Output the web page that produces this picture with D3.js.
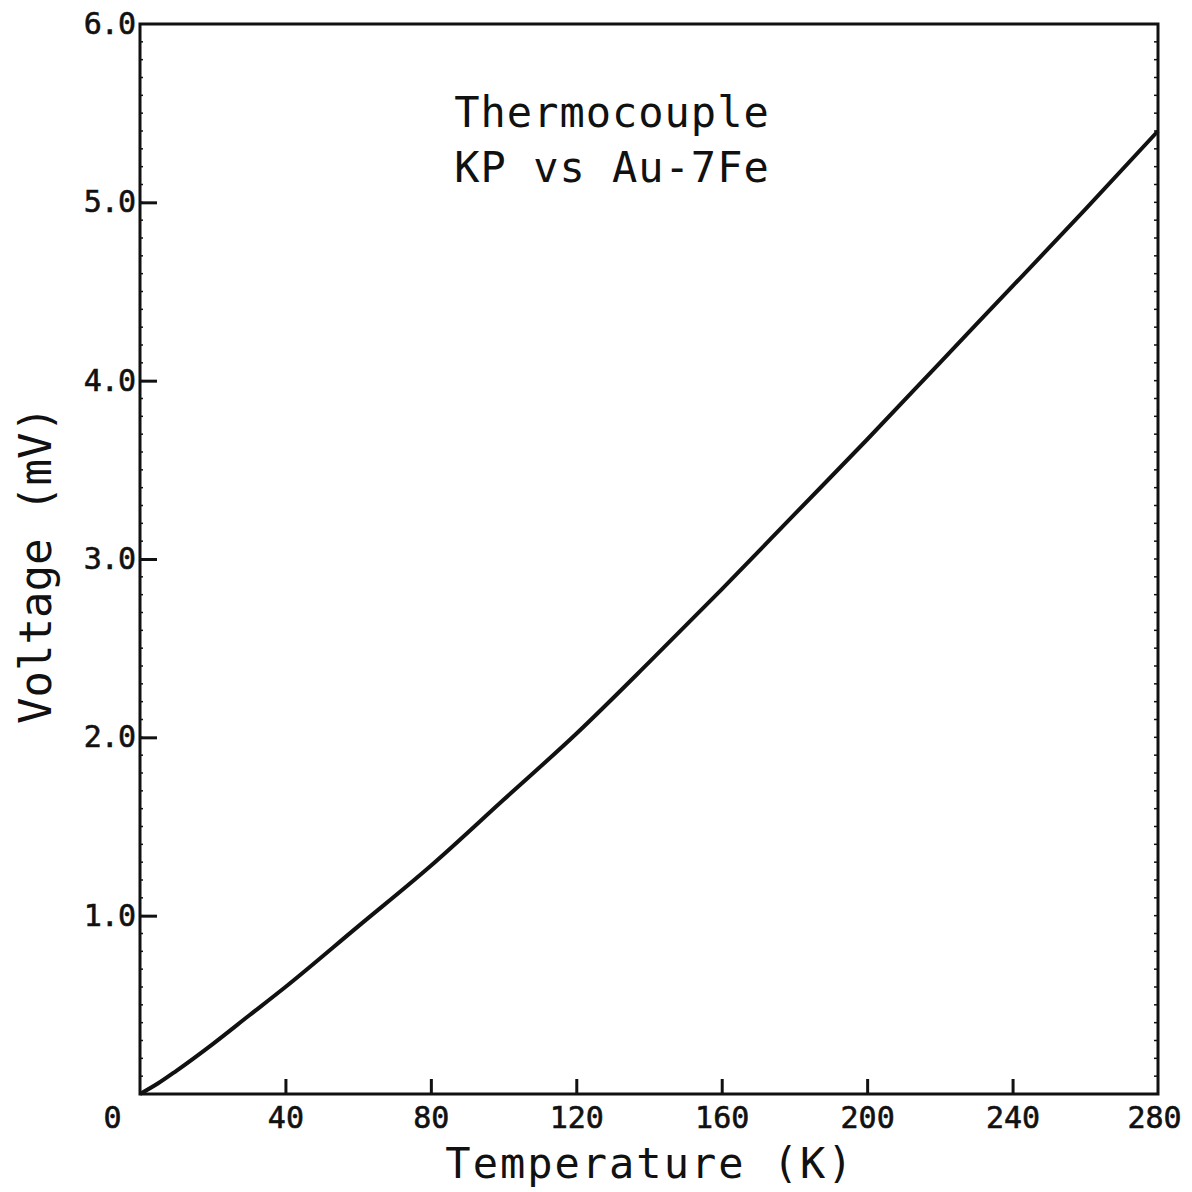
<!DOCTYPE html>
<html>
<head>
<meta charset="utf-8">
<script src="https://cdn.jsdelivr.net/npm/d3@7"></script>
<style>
  body { margin: 0; background: #fff; }
  svg text { font-family: "DejaVu Sans Mono", "Liberation Mono", monospace; fill: #111; }
</style>
</head>
<body>
<svg width="1192" height="1192"></svg>
<script>
// Data
const temperature = [0, 5, 10, 20, 30, 40, 60, 80, 100, 120, 140, 160, 180, 200, 220, 240, 260, 280];
const voltage = [0, 0.06, 0.13, 0.28, 0.44, 0.60, 0.94, 1.28, 1.65, 2.02, 2.42, 2.83, 3.25, 3.67, 4.10, 4.53, 4.96, 5.40];
const xTicks = [0, 40, 80, 120, 160, 200, 240, 280];
const yTicks = [1, 2, 3, 4, 5, 6];
const titleLines = ["Thermocouple", "KP vs Au-7Fe"];

const margin = { left: 140, right: 1158, top: 24, bottom: 1094 };
const svg = d3.select("svg");

let x = d3.scaleLinear().domain([0, 280]).range([margin.left, margin.right]);
let y = d3.scaleLinear().domain([0, 6]).range([margin.bottom, margin.top]);

// frame
svg.append("rect")
  .attr("x", margin.left).attr("y", margin.top)
  .attr("width", margin.right - margin.left)
  .attr("height", margin.bottom - margin.top)
  .attr("fill", "none").attr("stroke", "#111").attr("stroke-width", 3);

// minor ticks (tiny marks along the frame)
const minorY = d3.range(1, 60).map(d => d / 10);
svg.append("g").selectAll("line").data(minorY).join("line")
  .attr("x1", margin.left).attr("x2", margin.left + 3)
  .attr("y1", d => y(d)).attr("y2", d => y(d))
  .attr("stroke", "#111").attr("stroke-width", 1.5);
svg.append("g").selectAll("line").data(minorY).join("line")
  .attr("x1", margin.right).attr("x2", margin.right - 4)
  .attr("y1", d => y(d)).attr("y2", d => y(d))
  .attr("stroke", "#111").attr("stroke-width", 1.5);

// x axis
let xAxis = svg.append("g")
  .attr("transform", `translate(0,${margin.bottom})`)
  .call(d3.axisBottom(x).tickValues(xTicks).tickSizeInner(-15).tickSizeOuter(0).tickPadding(13)
    .tickFormat(d3.format("d")));
xAxis.select(".domain").remove();
xAxis.selectAll(".tick line").attr("stroke", "#111").attr("stroke-width", 3);
xAxis.selectAll(".tick text")
  .attr("font-size", 30)
  .attr("stroke", "#111").attr("stroke-width", 0.6)
  .attr("dx", d => d === 0 ? -28 : d === 280 ? -4 : 0);
xAxis.selectAll(".tick").filter(d => d === 0 || d === 280).select("line").remove();

// y axis
let yAxis = svg.append("g")
  .attr("transform", `translate(${margin.left},0)`)
  .call(d3.axisLeft(y).tickValues(yTicks).tickSizeInner(-17).tickSizeOuter(0).tickPadding(5)
    .tickFormat(d3.format(".1f")));
yAxis.select(".domain").remove();
yAxis.selectAll(".tick line").attr("stroke", "#111").attr("stroke-width", 3);
yAxis.selectAll(".tick text").attr("font-size", 30).attr("letter-spacing", -1)
  .attr("stroke", "#111").attr("stroke-width", 0.6);
yAxis.selectAll(".tick").filter(d => d === 6).select("line").remove();

// curve
let line = d3.line()
  .x((d, i) => x(temperature[i]))
  .y(d => y(d))
  .curve(d3.curveMonotoneX);
svg.append("path")
  .datum(voltage)
  .attr("d", line)
  .attr("fill", "none")
  .attr("stroke", "#111")
  .attr("stroke-width", 4);

// title inside plot
svg.append("g").selectAll("text").data(titleLines).join("text")
  .attr("x", 612)
  .attr("y", (d, i) => 127 + i * 55)
  .attr("text-anchor", "middle")
  .attr("font-size", 42)
  .attr("letter-spacing", 1)
  .text(d => d);

// axis labels
svg.append("text")
  .attr("x", 650).attr("y", 1178)
  .attr("text-anchor", "middle")
  .attr("font-size", 42)
  .attr("letter-spacing", 2)
  .text("Temperature (K)");

svg.append("text")
  .attr("transform", "translate(51,565) rotate(-90)")
  .attr("text-anchor", "middle")
  .attr("font-size", 44)
  .text("Voltage (mV)");
</script>
</body>
</html>
